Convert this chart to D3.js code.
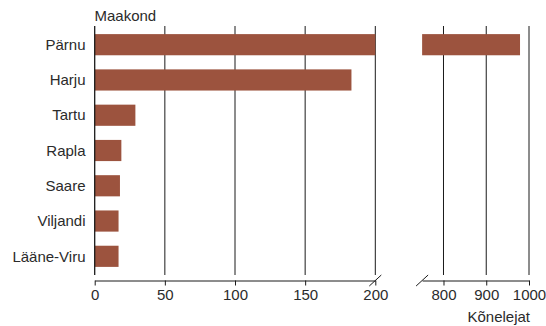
<!DOCTYPE html>
<html>
<head>
<meta charset="utf-8">
<script src="https://cdn.jsdelivr.net/npm/d3@7"></script>
<style>
  html, body { margin: 0; padding: 0; background: #fff; }
  svg { display: block; font-family: "Liberation Sans", Arial, Helvetica, sans-serif; }
</style>
</head>
<body>
<svg id="chart" width="546" height="326"></svg>
<script>
const categories = ["Pärnu", "Harju", "Tartu", "Rapla", "Saare", "Viljandi", "Lääne-Viru"];
const values = [979, 183, 29, 19, 18, 17, 17];
const leftTicks = [0, 50, 100, 150, 200];
const rightTicks = [800, 900, 1000];
const leftDomain = [0, 200];
const rightDomain = [750, 1000];
const yTitle = "Maakond";
const xTitle = "Kõnelejat";

(function () {
const data = categories.map((c, i) => ({ cat: c, val: values[i] }));

const svg = d3.select("#chart");
const barColor = "#9c533e";
const lineColor = "#1a1a1a";
const textColor = "#2b2b2b";

const plotTop = 26, plotBottom = 275, axisY = 280.5;

const xL = d3.scaleLinear().domain(leftDomain).range([94.7, 375.3]);
const xR = d3.scaleLinear().domain(rightDomain).range([422.12, 529]);
const y = d3.scaleBand().domain(categories).range([plotTop, plotBottom])
  .paddingInner(0.4).paddingOuter(0.23);

// gridlines
svg.append("g").selectAll("line").data(leftTicks.filter(t => t > 0)).join("line")
  .attr("x1", d => xL(d)).attr("x2", d => xL(d))
  .attr("y1", plotTop).attr("y2", plotBottom)
  .attr("stroke", lineColor).attr("stroke-width", 1);
svg.append("g").selectAll("line").data(rightTicks).join("line")
  .attr("x1", d => xR(d)).attr("x2", d => xR(d))
  .attr("y1", plotTop).attr("y2", plotBottom)
  .attr("stroke", lineColor).attr("stroke-width", 1);

// bars left panel
svg.append("g").selectAll("rect").data(data).join("rect")
  .attr("x", xL(0))
  .attr("y", d => y(d.cat))
  .attr("width", d => xL(Math.min(d.val, leftDomain[1])) - xL(0))
  .attr("height", y.bandwidth())
  .attr("fill", barColor);

// bars right panel
svg.append("g").selectAll("rect").data(data.filter(d => d.val > rightDomain[0])).join("rect")
  .attr("x", xR(rightDomain[0]))
  .attr("y", d => y(d.cat))
  .attr("width", d => xR(d.val) - xR(rightDomain[0]))
  .attr("height", y.bandwidth())
  .attr("fill", barColor);

// y axis line
svg.append("line")
  .attr("x1", xL(0)).attr("x2", xL(0))
  .attr("y1", plotTop).attr("y2", plotBottom)
  .attr("stroke", lineColor).attr("stroke-width", 1.3);

// category labels
svg.append("g").selectAll("text").data(categories).join("text")
  .attr("x", 85.5)
  .attr("y", d => y(d) + y.bandwidth() / 2)
  .attr("dy", "0.35em")
  .attr("text-anchor", "end")
  .attr("font-size", 15)
  .attr("fill", textColor)
  .text(d => d);

// y title
svg.append("text")
  .attr("x", 94.5).attr("y", 20.5)
  .attr("font-size", 15).attr("fill", textColor)
  .text(yTitle);

// bottom axes
function drawAxis(scale, ticks) {
  const g = svg.append("g").attr("transform", `translate(0,${axisY})`);
  const axis = d3.axisBottom(scale).tickValues(ticks).tickFormat(d3.format("d"))
    .tickSize(5).tickSizeOuter(0).tickPadding(4);
  g.call(axis);
  g.select(".domain").attr("stroke", lineColor);
  g.selectAll(".tick line").attr("stroke", lineColor);
  g.selectAll(".tick text")
    .attr("font-size", 15)
    .attr("font-family", '"Liberation Sans", Arial, sans-serif')
    .attr("fill", textColor);
  return g;
}
drawAxis(xL, leftTicks);
drawAxis(xR, rightTicks);

// break marks
const breakXs = [xL(leftDomain[1]), xR(rightDomain[0])];
svg.append("g").selectAll("line").data(breakXs).join("line")
  .attr("x1", d => d - 6).attr("y1", axisY + 5.5)
  .attr("x2", d => d + 6).attr("y2", axisY - 5.5)
  .attr("stroke", lineColor).attr("stroke-width", 1);

// x title
svg.append("text")
  .attr("x", 530).attr("y", 322)
  .attr("text-anchor", "end")
  .attr("font-size", 15).attr("fill", textColor)
  .text(xTitle);
})();
</script>
</body>
</html>
